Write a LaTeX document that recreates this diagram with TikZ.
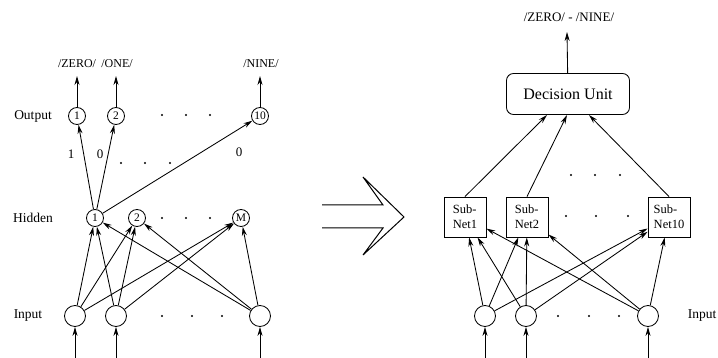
\documentclass[tikz,border=0pt]{standalone}
\usepackage{fontspec}
\setmainfont{Liberation Serif}
\usetikzlibrary{arrows.meta,calc}
\begin{document}
\begin{tikzpicture}[x=1pt,y=-1pt,
  line width=0.85pt,
  neuron/.style={circle,draw,minimum size=17pt,inner sep=0pt,font=\fontsize{11.5}{11.5}\selectfont},
  innode/.style={circle,draw,minimum size=21pt,inner sep=0pt},
  subnet/.style={draw,minimum width=42pt,minimum height=40pt,inner sep=2pt,align=left,font=\fontsize{12.5}{15}\selectfont},
  decision/.style={draw,rounded corners=7pt,minimum width=123pt,minimum height=41pt,font=\fontsize{16}{16}\selectfont},
  arr/.style={-{Stealth[length=9pt,width=5pt]}},
  lbl/.style={font=\fontsize{12}{12}\selectfont,inner sep=0pt},
  rowlbl/.style={font=\fontsize{13.5}{13.5}\selectfont,inner sep=0pt},
  wlbl/.style={font=\fontsize{13}{13}\selectfont,inner sep=0pt}]
\useasboundingbox (0,0) rectangle (718,358);

% ---------- single network ----------
% output layer
\node[neuron] (o1)  at (77,116)  {1};
\node[neuron] (o2)  at (116,116) {2};
\node[neuron] (o10) at (260,116) {10};
\node[rowlbl] (lout) at (33,116) {Output};
\node[lbl] (t0) at (77,64)  {/ZERO/};
\node[lbl] (t1) at (117,64) {/ONE/};
\node[lbl] (t9) at (261,64) {/NINE/};
\coordinate (e0) at (77,76);
\coordinate (e1) at (116,76);
\coordinate (e9) at (260,76);
\draw[arr] (o1) -- (e0);
\draw[arr] (o2) -- (e1);
\draw[arr] (o10) -- (e9);
\foreach \x in {162,186,210} \fill (\x,115) circle (1.2pt);

% hidden layer
\node[neuron] (h1) at (95,218)  {1};
\node[neuron] (h2) at (137,218) {2};
\node[neuron] (hm) at (241,218) {M};
\node[rowlbl] (lhid) at (33,218) {Hidden};
\foreach \x in {162,186,210} \fill (\x,218) circle (1.2pt);

% hidden -> output weights
\draw[arr] (h1) -- (o1);
\draw[arr] (h1) -- (o2);
\draw[arr] (h1) -- (o10);
\node[wlbl] (w1) at (71,154)  {1};
\node[wlbl] (w2) at (100,154) {0};
\node[wlbl] (w3) at (239,152) {0};
\foreach \x in {121,145,170} \fill (\x,163) circle (1.2pt);

% input layer
\node[innode] (i1) at (75,316)  {};
\node[innode] (i2) at (116,316) {};
\node[innode] (i3) at (260,316) {};
\node[rowlbl] (linp) at (28,316) {Input};
\foreach \x in {162,192,222} \fill (\x,316) circle (1.2pt);
\foreach \i in {i1,i2,i3} {
  \foreach \h in {h1,h2,hm} \draw[arr] (\i) -- (\h);
}
\coordinate (b1) at (75,358);
\coordinate (b2) at (116,358);
\coordinate (b3) at (260,358);
\draw[arr] (b1) -- (i1);
\draw[arr] (b2) -- (i2);
\draw[arr] (b3) -- (i3);

% ---------- hollow arrow between the two schemes ----------
\draw[line width=1pt,line join=miter]
  (322,205) -- (383,205) -- (363,177) -- (404,217) -- (363,255) -- (383,228) -- (322,228);

% ---------- modular network ----------
\node[decision] (du) at (568,94) {Decision Unit};
\node[lbl,font=\fontsize{13}{13}\selectfont] (tout) at (569,17) {/ZERO/ - /NINE/};
\coordinate (etop) at (567,32);
\draw[arr] (du) -- (etop);

\node[subnet] (s1)  at (465,217) {Sub-\\Net1};
\node[subnet] (s2)  at (527,217) {Sub-\\Net2};
\node[subnet] (s10) at (669,217) {Sub-\\Net10};
\foreach \x in {566,596,628} \fill (\x,216) circle (1.2pt);
\foreach \x in {571,595,620} \fill (\x,175) circle (1.2pt);

\coordinate (d1) at (547,115);
\coordinate (d2) at (567,115);
\coordinate (d3) at (589,115);
\draw[arr] (s1.north) -- (d1);
\draw[arr] (s2.north) -- (d2);
\draw[arr] (s10.north) -- (d3);

\node[innode] (j1) at (485,316) {};
\node[innode] (j2) at (526,316) {};
\node[innode] (j3) at (648,316) {};
\node[rowlbl] (linp2) at (702,316) {Input};
\foreach \x in {558,589,619} \fill (\x,316) circle (1.2pt);
\foreach \i in {j1,j2,j3} {
  \foreach \s in {s1,s2,s10} \draw[arr] (\i) -- (\s);
}
\coordinate (c1) at (485,358);
\coordinate (c2) at (526,358);
\coordinate (c3) at (648,358);
\draw[arr] (c1) -- (j1);
\draw[arr] (c2) -- (j2);
\draw[arr] (c3) -- (j3);
\end{tikzpicture}
\end{document}
